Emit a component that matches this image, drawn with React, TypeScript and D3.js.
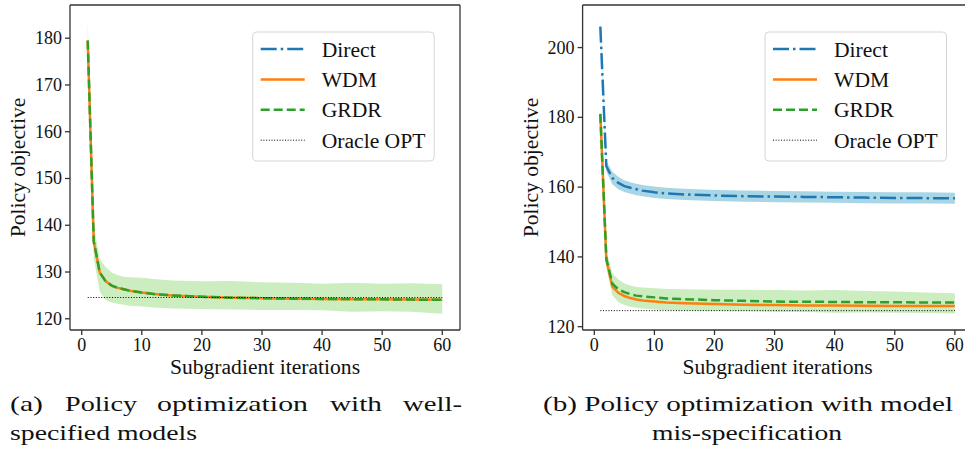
import React from 'react';
import * as d3 from 'd3';

const iters = [1, 2, 3, 4, 5, 6, 7, 8, 10, 12, 15, 20, 25, 30, 35, 40, 45, 50, 55, 60];

// (a) well-specified models
const aWdm = [179.5, 136.5, 129.9, 128.0, 127.1, 126.6, 126.3, 126.0, 125.6, 125.3, 125.0, 124.7, 124.5, 124.4, 124.3, 124.25, 124.2, 124.15, 124.1, 124.05];
const aGrdr = [179.5, 136.6, 129.9, 128.0, 127.1, 126.6, 126.3, 126.0, 125.6, 125.3, 125.0, 124.7, 124.5, 124.4, 124.3, 124.25, 124.2, 124.15, 124.1, 124.05];
const aBandHi = [183.5, 140.0, 132.8, 131.0, 129.9, 129.3, 129.0, 128.9, 128.8, 128.5, 128.2, 128.0, 128.1, 127.8, 127.7, 127.5, 127.7, 127.5, 127.6, 127.4];
const aBandLo = [176.0, 133.0, 125.8, 124.0, 123.5, 123.2, 123.0, 122.8, 122.6, 122.4, 122.2, 122.1, 122.0, 121.9, 121.9, 121.8, 121.5, 121.6, 121.5, 121.1];
const aOracle = 124.55;

// (b) model mis-specification
const bDirect = [206.0, 166.0, 162.6, 161.2, 160.3, 159.8, 159.4, 159.0, 158.5, 158.2, 157.9, 157.6, 157.4, 157.3, 157.2, 157.1, 157.0, 156.9, 156.85, 156.8];
const bDirectHi = [207.5, 167.5, 164.4, 163.0, 162.0, 161.4, 161.0, 160.6, 160.2, 159.8, 159.5, 159.2, 159.0, 158.9, 158.8, 158.7, 158.6, 158.5, 158.5, 158.4];
const bDirectLo = [204.5, 164.5, 160.8, 159.4, 158.6, 158.1, 157.7, 157.4, 156.9, 156.6, 156.3, 156.0, 155.8, 155.7, 155.6, 155.5, 155.4, 155.3, 155.3, 155.2];
const bWdm = [181.0, 139.1, 131.5, 129.7, 128.8, 128.2, 127.8, 127.5, 127.2, 126.9, 126.7, 126.5, 126.3, 126.2, 126.1, 126.05, 126.0, 125.95, 125.9, 125.9];
const bGrdr = [181.0, 139.5, 132.3, 130.7, 129.9, 129.3, 128.9, 128.7, 128.4, 128.1, 127.9, 127.6, 127.4, 127.2, 127.15, 127.1, 127.0, 127.0, 126.95, 126.9];
const bBandHi = [182.5, 142.0, 135.3, 133.5, 132.4, 131.8, 131.4, 131.2, 131.0, 130.8, 130.7, 130.6, 130.6, 130.5, 130.4, 130.5, 130.2, 130.1, 129.8, 129.6];
const bBandLo = [179.5, 137.0, 129.0, 127.0, 126.2, 125.7, 125.4, 125.2, 124.9, 124.7, 124.6, 124.5, 124.4, 124.3, 124.2, 124.0, 124.1, 124.0, 123.9, 123.8];
const bOracle = 124.6;

const xTicks = [0, 10, 20, 30, 40, 50, 60];
const aYTicks = [120, 130, 140, 150, 160, 170, 180];
const bYTicks = [120, 140, 160, 180, 200];
const legendLabels = ['Direct', 'WDM', 'GRDR', 'Oracle OPT'];

const BLUE = '#1f77b4';
const ORANGE = '#ff7f0e';
const GREEN = '#2ca02c';
const GREEN_BAND = '#cbedbf';
const BLUE_BAND = '#a9d6e5';
const SPINE = '#333';
const FAMILY = 'Liberation Serif';

const styles: Record<string, { dash: string; color: string; width: number }> = {
  Direct: { dash: '16,4,2.5,4', color: BLUE, width: 2.5 },
  WDM: { dash: '', color: ORANGE, width: 2.5 },
  GRDR: { dash: '9,4', color: GREEN, width: 2.5 },
  'Oracle OPT': { dash: '1,1.7', color: '#000', width: 1 },
};

interface PanelProps {
  id: string;
  left: number;
  right: number;
  yDomain: [number, number];
  yTicks: number[];
  bands: { hi: number[]; lo: number[]; fill: string }[];
  series: { name: string; values: number[] }[];
  oracle: number;
  legendX: number;
  fullBox: boolean;
}

const TOP = 5;
const BOTTOM = 330;

const Panel: React.FC<PanelProps> = ({ id, left, right, yDomain, yTicks, bands, series, oracle, legendX, fullBox }) => {
  const x = d3.scaleLinear().domain([-1.95, 62.95]).range([left, right]);
  const y = d3.scaleLinear().domain(yDomain).range([BOTTOM, TOP]);

  const line = d3.line<number>().x((_, i) => x(iters[i])).y((d) => y(d));
  const area = (hi: number[], lo: number[]) =>
    d3.area<number>().x((_, i) => x(iters[i])).y0((_, i) => y(lo[i])).y1((d) => y(d))(hi) || '';

  const cx = (left + right) / 2;
  const cy = (TOP + BOTTOM) / 2;

  return (
    <g>
      <defs>
        <clipPath id={`clip-${id}`}>
          <rect x={left} y={TOP} width={right - left} height={BOTTOM - TOP} />
        </clipPath>
      </defs>
      <g clipPath={`url(#clip-${id})`}>
        {bands.map((b, i) => (
          <path key={i} d={area(b.hi, b.lo)} fill={b.fill} stroke="none" />
        ))}
        {series.map((s) => (
          <path
            key={s.name}
            d={line(s.values) || ''}
            fill="none"
            stroke={styles[s.name].color}
            strokeWidth={styles[s.name].width}
            strokeDasharray={styles[s.name].dash}
          />
        ))}
        <line
          x1={x(iters[0])}
          x2={x(iters[iters.length - 1])}
          y1={y(oracle)}
          y2={y(oracle)}
          stroke="#000"
          strokeWidth={1}
          strokeDasharray={styles['Oracle OPT'].dash}
        />
      </g>

      {/* spines */}
      <line x1={left} x2={left} y1={TOP} y2={BOTTOM} stroke={SPINE} strokeWidth={1.3} />
      <line x1={left} x2={right} y1={BOTTOM} y2={BOTTOM} stroke={SPINE} strokeWidth={1.3} />
      {fullBox && <line x1={right} x2={right} y1={TOP} y2={BOTTOM} stroke={SPINE} strokeWidth={1.3} />}
      <line x1={left} x2={right} y1={TOP} y2={TOP} stroke={SPINE} strokeWidth={1.3} />

      {/* x ticks */}
      {xTicks.map((t) => (
        <g key={t}>
          <line x1={x(t)} x2={x(t)} y1={BOTTOM} y2={BOTTOM + 5} stroke={SPINE} strokeWidth={1.3} />
          <text x={x(t)} y={351} textAnchor="middle" fontSize={18} fill="#111">
            {t}
          </text>
        </g>
      ))}
      {/* y ticks */}
      {yTicks.map((t) => (
        <g key={t}>
          <line x1={left - 5} x2={left} y1={y(t)} y2={y(t)} stroke={SPINE} strokeWidth={1.3} />
          <text x={left - 8} y={y(t) + 6} textAnchor="end" fontSize={18} fill="#111">
            {t}
          </text>
        </g>
      ))}

      <text x={cx} y={374} textAnchor="middle" fontSize={21.6} fill="#111">
        Subgradient iterations
      </text>
      <text transform={`translate(${left - 45},${cy}) rotate(-90)`} textAnchor="middle" fontSize={21.6} fill="#111">
        Policy objective
      </text>

      {/* legend */}
      <rect x={legendX} y={32} width={181.5} height={129} rx={4} fill="#fff" fillOpacity={0.85} stroke="#d5d5d5" strokeWidth={1} />
      {legendLabels.map((name, i) => {
        const ly = 49 + i * 30.4;
        const st = styles[name];
        return (
          <g key={name}>
            <line
              x1={legendX + 8}
              x2={legendX + 52}
              y1={ly}
              y2={ly}
              stroke={st.color}
              strokeWidth={st.width}
              strokeDasharray={st.dash}
            />
            <text x={legendX + 69} y={ly + 7.5} fontSize={21.6} fill="#111">
              {name}
            </text>
          </g>
        );
      })}
    </g>
  );
};

const App: React.FC = () => {
  const capA1: [string, number, number][] = [
    ['(a)', 10, 33],
    ['Policy', 65, 72],
    ['optimization', 157, 151],
    ['with', 330, 52],
    ['well-', 403, 59],
  ];
  return (
    <svg
      width={965}
      height={452}
      style={{ position: 'absolute', left: 0, top: 0, background: '#fff', fontFamily: FAMILY }}
    >
      <Panel
        id="a"
        left={70}
        right={460}
        yDomain={[117.6, 187.1]}
        yTicks={aYTicks}
        bands={[{ hi: aBandHi, lo: aBandLo, fill: GREEN_BAND }]}
        series={[
          { name: 'WDM', values: aWdm },
          { name: 'GRDR', values: aGrdr },
        ]}
        oracle={aOracle}
        legendX={252.7}
        fullBox={true}
      />
      <Panel
        id="b"
        left={582.6}
        right={972.6}
        yDomain={[119.05, 212.2]}
        yTicks={bYTicks}
        bands={[
          { hi: bDirectHi, lo: bDirectLo, fill: BLUE_BAND },
          { hi: bBandHi, lo: bBandLo, fill: GREEN_BAND },
        ]}
        series={[
          { name: 'Direct', values: bDirect },
          { name: 'WDM', values: bWdm },
          { name: 'GRDR', values: bGrdr },
        ]}
        oracle={bOracle}
        legendX={765}
        fullBox={false}
      />

      {/* captions */}
      {capA1.map(([w, x0, len]) => (
        <text key={w} x={x0} y={411} fontSize={22} textLength={len} lengthAdjust="spacingAndGlyphs" fill="#111">
          {w}
        </text>
      ))}
      <text x={10} y={440} fontSize={22} textLength={187} lengthAdjust="spacingAndGlyphs" fill="#111">
        specified models
      </text>
      <text x={543} y={411} fontSize={22} textLength={410} lengthAdjust="spacingAndGlyphs" fill="#111">
        (b) Policy optimization with model
      </text>
      <text x={652} y={440} fontSize={22} textLength={190} lengthAdjust="spacingAndGlyphs" fill="#111">
        mis-specification
      </text>
    </svg>
  );
};

export default App;
